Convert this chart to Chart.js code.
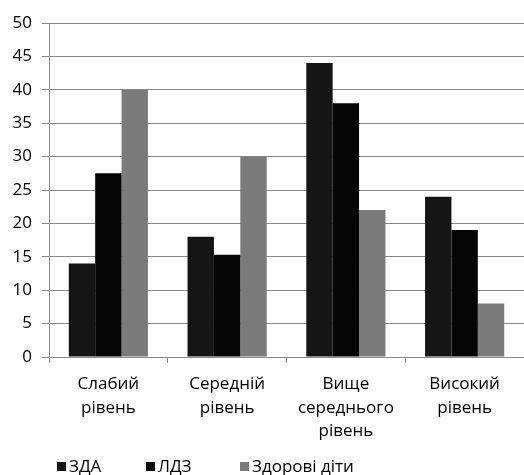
<!DOCTYPE html>
<html>
<head>
<meta charset="utf-8">
<script src="https://cdn.jsdelivr.net/npm/chart.js@4/dist/chart.umd.min.js"></script>
<style>
  html, body { margin: 0; padding: 0; background: #ffffff; }
  #wrap { width: 524px; height: 475px; position: relative; }
</style>
</head>
<body>
<div id="wrap"><canvas id="c" width="524" height="475"></canvas></div>
<script>
// Рівні сформованості (категорії осі X)
const categories = [
  ['Слабий', 'рівень'],
  ['Середній', 'рівень'],
  ['Вище', 'середнього', 'рівень'],
  ['Високий', 'рівень']
];
const seriesNames = ['ЗДА', 'ЛДЗ', 'Здорові діти'];
const zdaValues = [14, 18, 44, 24];
const ldzValues = [27.5, 15.3, 38, 19];
const healthyValues = [40, 30, 22, 8];
const seriesColors = ['#151515', '#050505', '#7b7b7b'];
const yTicks = { min: 0, max: 50, step: 5 };

const FONT = '"Open Sans", "DejaVu Sans", sans-serif';
const GRID = '#8a8a8a';

// Легенда під діаграмою: квадратний маркер і підпис для кожного ряду
const bottomLegend = {
  id: 'bottomLegend',
  afterDraw(chart) {
    const ctx = chart.ctx;
    const slots = [57, 146, 240];
    const baseline = 472;
    ctx.save();
    ctx.font = '17px ' + FONT;
    ctx.textBaseline = 'alphabetic';
    ctx.textAlign = 'left';
    chart.data.datasets.forEach((ds, i) => {
      const x = slots[i];
      ctx.fillStyle = ds.backgroundColor;
      ctx.fillRect(x, baseline - 10, 9, 9);
      ctx.fillStyle = '#000000';
      ctx.fillText(ds.label, x + 12, baseline);
    });
    ctx.restore();
  }
};

new Chart(document.getElementById('c'), {
  type: 'bar',
  data: {
    labels: categories,
    datasets: [
      { label: seriesNames[0], data: zdaValues, backgroundColor: seriesColors[0] },
      { label: seriesNames[1], data: ldzValues, backgroundColor: seriesColors[1] },
      { label: seriesNames[2], data: healthyValues, backgroundColor: seriesColors[2] }
    ]
  },
  options: {
    responsive: false,
    animation: false,
    devicePixelRatio: 1,
    layout: { padding: { top: 23, right: 0, bottom: 0, left: 0 } },
    datasets: {
      bar: { categoryPercentage: 3 / 4.5, barPercentage: 1.0, borderWidth: 0 }
    },
    plugins: {
      legend: { display: false },
      tooltip: { enabled: false }
    },
    scales: {
      x: {
        offset: true,
        grid: {
          offset: true,
          drawOnChartArea: false,
          drawTicks: true,
          tickLength: 6,
          color: GRID
        },
        border: { display: false },
        ticks: {
          color: '#000000',
          font: { family: FONT, size: 17, lineHeight: 1.4 },
          padding: 9,
          maxRotation: 0,
          autoSkip: false
        },
        afterFit(scale) { scale.height = 118; }
      },
      y: {
        min: yTicks.min,
        max: yTicks.max,
        grid: { color: GRID, tickLength: 7, lineWidth: 1 },
        border: { color: GRID },
        ticks: {
          stepSize: yTicks.step,
          color: '#000000',
          font: { family: FONT, size: 17 },
          padding: 10
        },
        afterFit(scale) { scale.width = 49; }
      }
    }
  },
  plugins: [bottomLegend]
});
</script>
</body>
</html>
